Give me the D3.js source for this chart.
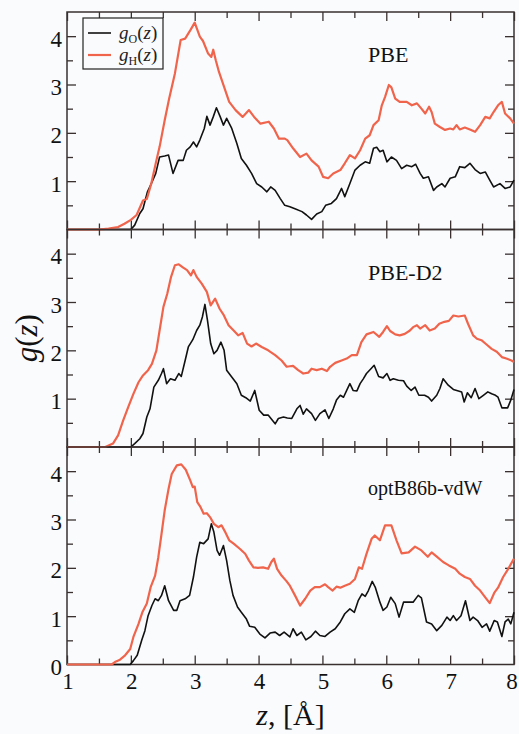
<!DOCTYPE html>
<html><head><meta charset="utf-8">
<script src="https://cdn.jsdelivr.net/npm/d3@7"></script>
<style>html,body{margin:0;padding:0;background:#fafbfd;} svg{display:block;}</style>
</head><body><svg id="c" width="519" height="734"></svg>
<script>
const panelNames = ["PBE", "PBE-D2", "optB86b-vdW"];
const xTicks = [1, 2, 3, 4, 5, 6, 7, 8];
const xMinor = [1.5, 2.5, 3.5, 4.5, 5.5, 6.5, 7.5];
const yTicks = [1, 2, 3, 4];
const yMinor = [0.5, 1.5, 2.5, 3.5];
const yLabelsTop = ["1", "2", "3", "4"];
const yLabelsBottom = ["0", "1", "2", "3", "4"];
const seriesNames = ["O", "H"];

const pbeO = [[1,0],[2.0,0],[2.06,0.09],[2.14,0.33],[2.19,0.43],[2.26,0.78],[2.32,0.95],[2.39,1.16],[2.45,1.5],[2.53,1.52],[2.59,1.54],[2.66,1.16],[2.74,1.43],[2.82,1.43],[2.87,1.64],[2.93,1.71],[2.98,1.81],[3.03,1.71],[3.08,1.85],[3.15,2.09],[3.19,2.34],[3.24,2.16],[3.29,2.33],[3.34,2.52],[3.4,2.33],[3.45,2.16],[3.5,2.3],[3.58,2.09],[3.66,1.78],[3.73,1.47],[3.81,1.33],[3.89,1.16],[3.97,0.95],[4.05,0.88],[4.13,0.78],[4.19,0.88],[4.26,0.81],[4.34,0.64],[4.41,0.5],[4.49,0.47],[4.57,0.43],[4.68,0.37],[4.75,0.3],[4.83,0.21],[4.91,0.32],[4.99,0.37],[5.05,0.5],[5.14,0.54],[5.22,0.64],[5.3,0.85],[5.35,0.68],[5.43,0.95],[5.51,1.23],[5.59,1.33],[5.67,1.4],[5.74,1.37],[5.8,1.68],[5.85,1.7],[5.9,1.61],[5.95,1.64],[6.01,1.4],[6.08,1.5],[6.16,1.43],[6.24,1.26],[6.32,1.33],[6.4,1.3],[6.46,1.35],[6.53,1.16],[6.58,1.06],[6.66,1.09],[6.74,0.81],[6.79,0.88],[6.87,0.95],[6.92,0.88],[7.0,1.06],[7.08,1.09],[7.15,1.3],[7.23,1.28],[7.31,1.37],[7.39,1.24],[7.47,1.16],[7.55,1.19],[7.62,1.02],[7.68,0.88],[7.78,0.95],[7.86,0.85],[7.94,0.88],[8.0,1.02]];
const pbeH = [[1,0],[1.5,0],[1.65,0.02],[1.8,0.05],[1.9,0.12],[2.0,0.2],[2.09,0.3],[2.19,0.6],[2.25,0.63],[2.32,0.95],[2.4,1.43],[2.45,1.71],[2.53,2.26],[2.6,2.71],[2.69,3.23],[2.78,3.92],[2.85,3.95],[2.93,4.12],[3.0,4.28],[3.08,3.99],[3.13,3.9],[3.21,3.64],[3.26,3.57],[3.29,3.72],[3.33,3.5],[3.38,3.26],[3.46,2.95],[3.54,2.64],[3.64,2.47],[3.75,2.33],[3.85,2.47],[3.93,2.33],[4.03,2.19],[4.16,2.23],[4.24,2.09],[4.32,1.88],[4.41,1.88],[4.45,1.85],[4.54,1.68],[4.65,1.5],[4.75,1.57],[4.83,1.43],[4.94,1.3],[5.01,1.09],[5.09,1.06],[5.17,1.16],[5.28,1.23],[5.35,1.37],[5.43,1.54],[5.51,1.47],[5.59,1.64],[5.67,1.88],[5.74,1.95],[5.8,2.16],[5.88,2.26],[5.93,2.57],[5.98,2.74],[6.04,2.99],[6.08,2.94],[6.14,2.71],[6.21,2.64],[6.32,2.64],[6.4,2.57],[6.48,2.61],[6.55,2.5],[6.61,2.4],[6.67,2.54],[6.71,2.43],[6.76,2.19],[6.84,2.12],[6.92,2.06],[7.0,2.09],[7.05,2.07],[7.1,2.16],[7.15,2.07],[7.23,2.11],[7.31,2.07],[7.39,2.02],[7.47,2.16],[7.55,2.33],[7.62,2.3],[7.68,2.43],[7.75,2.57],[7.81,2.64],[7.86,2.4],[7.94,2.3],[8.0,2.19]];

const d2O = [[1,0],[2.0,0],[2.06,0.07],[2.14,0.17],[2.19,0.28],[2.25,0.62],[2.3,0.79],[2.36,1.24],[2.43,1.38],[2.48,1.52],[2.51,1.62],[2.56,1.31],[2.62,1.41],[2.69,1.38],[2.75,1.52],[2.79,1.46],[2.85,1.79],[2.9,2.07],[2.97,2.22],[3.03,2.41],[3.08,2.52],[3.12,2.69],[3.16,2.95],[3.2,2.62],[3.25,2.14],[3.3,1.93],[3.35,2.0],[3.41,2.17],[3.46,2.0],[3.5,1.59],[3.58,1.45],[3.66,1.31],[3.73,1.07],[3.8,1.02],[3.87,0.95],[3.94,1.17],[4.01,0.76],[4.08,0.66],[4.15,0.66],[4.26,0.48],[4.31,0.59],[4.39,0.62],[4.45,0.6],[4.52,0.59],[4.6,0.79],[4.65,0.86],[4.7,0.68],[4.75,0.79],[4.83,0.69],[4.89,0.55],[4.96,0.69],[5.04,0.77],[5.1,0.59],[5.17,0.79],[5.22,0.97],[5.28,1.07],[5.33,1.03],[5.38,1.17],[5.43,1.31],[5.48,1.17],[5.54,1.16],[5.59,1.31],[5.64,1.41],[5.69,1.52],[5.76,1.62],[5.81,1.69],[5.88,1.46],[5.95,1.43],[6.01,1.52],[6.06,1.38],[6.11,1.41],[6.19,1.38],[6.27,1.37],[6.32,1.26],[6.39,1.17],[6.45,1.24],[6.51,1.07],[6.6,1.07],[6.66,1.03],[6.71,0.95],[6.79,1.07],[6.84,1.21],[6.89,1.41],[6.97,1.28],[7.05,1.19],[7.13,1.16],[7.18,1.14],[7.22,0.93],[7.27,1.12],[7.33,1.02],[7.39,1.21],[7.45,1.0],[7.52,1.07],[7.59,1.14],[7.65,1.1],[7.71,1.07],[7.75,1.03],[7.81,0.81],[7.9,0.81],[7.95,0.97],[8.0,1.19]];
const d2H = [[1,0],[1.6,0],[1.72,0.07],[1.8,0.24],[1.88,0.55],[1.96,0.83],[2.04,1.1],[2.12,1.34],[2.19,1.48],[2.27,1.59],[2.33,1.72],[2.4,2.0],[2.45,2.41],[2.51,2.9],[2.57,3.17],[2.63,3.52],[2.69,3.76],[2.75,3.78],[2.82,3.71],[2.88,3.66],[2.94,3.55],[2.98,3.66],[3.03,3.52],[3.11,3.38],[3.19,3.21],[3.25,2.93],[3.32,3.07],[3.39,2.86],[3.45,2.74],[3.53,2.52],[3.61,2.41],[3.68,2.31],[3.75,2.36],[3.82,2.14],[3.89,2.08],[3.96,2.14],[4.05,2.07],[4.15,2.0],[4.26,1.9],[4.36,1.79],[4.44,1.66],[4.49,1.67],[4.54,1.68],[4.62,1.59],[4.7,1.52],[4.78,1.54],[4.83,1.62],[4.91,1.59],[4.99,1.62],[5.07,1.57],[5.12,1.66],[5.2,1.74],[5.3,1.79],[5.38,1.83],[5.46,1.9],[5.54,1.9],[5.61,2.17],[5.69,2.33],[5.8,2.38],[5.89,2.28],[5.95,2.38],[6.01,2.5],[6.06,2.4],[6.14,2.33],[6.21,2.31],[6.29,2.34],[6.37,2.41],[6.42,2.48],[6.48,2.52],[6.53,2.45],[6.61,2.52],[6.68,2.41],[6.76,2.45],[6.83,2.55],[6.91,2.59],[6.98,2.61],[7.05,2.72],[7.13,2.7],[7.23,2.72],[7.28,2.55],[7.36,2.31],[7.42,2.24],[7.49,2.21],[7.57,2.12],[7.65,2.03],[7.73,1.97],[7.81,1.86],[7.88,1.83],[7.96,1.79],[8.0,1.76]];

const optO = [[1,0],[1.99,0],[2.04,0.08],[2.1,0.19],[2.17,0.5],[2.22,0.7],[2.27,1.01],[2.33,1.22],[2.38,1.36],[2.43,1.32],[2.48,1.43],[2.53,1.63],[2.59,1.32],[2.67,1.12],[2.72,1.12],[2.77,1.32],[2.85,1.36],[2.92,1.43],[2.98,1.81],[3.03,2.22],[3.08,2.53],[3.14,2.5],[3.21,2.6],[3.26,2.91],[3.3,2.74],[3.35,2.36],[3.39,2.26],[3.45,2.46],[3.5,2.15],[3.55,1.74],[3.6,1.43],[3.67,1.19],[3.73,1.08],[3.81,0.94],[3.86,0.79],[3.94,0.77],[4.02,0.63],[4.1,0.55],[4.18,0.65],[4.26,0.67],[4.33,0.6],[4.4,0.67],[4.49,0.57],[4.54,0.74],[4.6,0.6],[4.67,0.67],[4.74,0.51],[4.82,0.58],[4.89,0.69],[4.96,0.6],[5.04,0.58],[5.12,0.67],[5.2,0.74],[5.28,0.88],[5.35,1.05],[5.43,1.15],[5.5,1.08],[5.56,1.32],[5.62,1.46],[5.67,1.41],[5.72,1.53],[5.78,1.72],[5.83,1.59],[5.9,1.29],[5.95,1.12],[6.01,1.19],[6.07,1.39],[6.14,1.26],[6.2,0.98],[6.27,1.29],[6.35,1.29],[6.42,1.29],[6.5,1.43],[6.55,1.38],[6.63,0.88],[6.71,0.84],[6.79,0.7],[6.87,0.81],[6.95,0.98],[7.0,0.91],[7.05,1.01],[7.1,0.91],[7.17,1.01],[7.24,1.32],[7.31,0.91],[7.36,0.98],[7.43,0.91],[7.5,0.77],[7.57,0.84],[7.62,0.69],[7.69,0.91],[7.74,0.88],[7.81,0.58],[7.86,0.88],[7.91,0.94],[7.95,0.84],[8.0,1.08]];
const optH = [[1,0],[1.7,0],[1.75,0.05],[1.83,0.1],[1.91,0.19],[1.99,0.32],[2.04,0.57],[2.12,0.84],[2.18,1.08],[2.25,1.26],[2.31,1.6],[2.38,1.84],[2.43,2.22],[2.48,2.7],[2.53,3.19],[2.59,3.63],[2.64,3.94],[2.72,4.12],[2.79,4.14],[2.86,4.03],[2.93,3.81],[2.97,3.67],[3.0,3.68],[3.04,3.36],[3.09,3.26],[3.14,3.12],[3.19,3.13],[3.24,3.05],[3.3,2.91],[3.37,2.84],[3.42,2.88],[3.47,2.76],[3.54,2.57],[3.61,2.5],[3.71,2.39],[3.79,2.29],[3.85,2.15],[3.92,2.01],[3.99,2.0],[4.07,2.01],[4.15,1.98],[4.2,2.12],[4.24,2.19],[4.29,1.98],[4.36,1.84],[4.44,1.72],[4.49,1.63],[4.57,1.43],[4.65,1.22],[4.73,1.36],[4.81,1.53],[4.88,1.6],[4.96,1.6],[5.04,1.66],[5.09,1.6],[5.16,1.53],[5.22,1.61],[5.28,1.59],[5.35,1.63],[5.43,1.67],[5.51,1.77],[5.57,2.01],[5.62,1.98],[5.69,2.29],[5.77,2.6],[5.82,2.67],[5.9,2.57],[5.98,2.88],[6.08,2.88],[6.16,2.57],[6.24,2.3],[6.35,2.32],[6.45,2.44],[6.55,2.36],[6.65,2.23],[6.71,2.32],[6.8,2.22],[6.89,2.12],[6.98,2.05],[7.08,1.98],[7.15,1.88],[7.23,1.81],[7.31,1.77],[7.39,1.63],[7.47,1.53],[7.55,1.39],[7.62,1.27],[7.69,1.48],[7.75,1.59],[7.83,1.81],[7.91,1.98],[8.0,2.19]];

const panelsO = [pbeO, d2O, optO];
const panelsH = [pbeH, d2H, optH];

const colO = "#111111", colH = "#f0644c", frameCol = "#3a3030";
const serif = "'Liberation Serif','DejaVu Serif',serif";
const svg = d3.select("#c");
const left = 67, right = 514, top0 = 12, ph = 217.5;
const x = d3.scaleLinear().domain([1, 8]).range([left, right]);

panelNames.forEach((name, i) => {
  const t = top0 + i * ph, b = t + ph;
  const y = d3.scaleLinear().domain([0, 4.5]).range([b, t]);
  const g = svg.append("g");
  const mk = (axis, vals, size) => axis.tickValues(vals).tickSize(-size).tickSizeOuter(0).tickFormat("");
  const addAx = (axis, tr) => {
    const a = g.append("g").attr("transform", tr).call(axis);
    a.select(".domain").remove();
    a.selectAll("line").attr("stroke", frameCol).attr("stroke-width", 1.3);
  };
  addAx(mk(d3.axisBottom(x), xTicks, 9), `translate(0,${b})`);
  addAx(mk(d3.axisBottom(x), xMinor, 6), `translate(0,${b})`);
  addAx(mk(d3.axisTop(x), xTicks, 9), `translate(0,${t})`);
  addAx(mk(d3.axisTop(x), xMinor, 6), `translate(0,${t})`);
  addAx(mk(d3.axisLeft(y), yTicks, 9), `translate(${left},0)`);
  addAx(mk(d3.axisLeft(y), yMinor, 6), `translate(${left},0)`);
  addAx(mk(d3.axisRight(y), yTicks, 9), `translate(${right},0)`);
  addAx(mk(d3.axisRight(y), yMinor, 6), `translate(${right},0)`);
  g.append("rect").attr("x", left).attr("y", t).attr("width", right - left).attr("height", ph)
    .attr("fill", "none").attr("stroke", frameCol).attr("stroke-width", 1.5);

  const labs = i === 2 ? yLabelsBottom : yLabelsTop;
  g.selectAll("text.yl").data(labs).enter().append("text")
    .attr("x", left - 5).attr("y", d => y(+d) + 10.5)
    .attr("text-anchor", "end").attr("font-family", serif).attr("font-size", 23)
    .attr("fill", "#111").text(d => d);

  const line = d3.line().x(d => x(d[0])).y(d => y(d[1]));
  g.append("path").datum(panelsO[i]).attr("d", line).attr("fill", "none")
    .attr("stroke", colO).attr("stroke-width", 1.6).attr("stroke-linejoin", "round");
  g.append("path").datum(panelsH[i]).attr("d", line).attr("fill", "none")
    .attr("stroke", colH).attr("stroke-width", 2.2).attr("stroke-linejoin", "round");

  g.append("text").attr("x", 368).attr("y", t + (i === 2 ? 48 : 50))
    .attr("font-family", serif).attr("font-size", i === 2 ? 20 : 22).attr("fill", "#111").text(name);

  if (i === 2) {
    g.selectAll("text.xl").data(xTicks).enter().append("text")
      .attr("x", d => Math.min(x(d) + 1, 512)).attr("y", b + 24).attr("text-anchor", "middle")
      .attr("font-family", serif).attr("font-size", 23).attr("fill", "#111").text(d => d);
  }
});

// legend
const leg = svg.append("g");
leg.append("rect").attr("x", 83).attr("y", 18).attr("width", 80).attr("height", 51)
  .attr("fill", "#fafbfd").attr("stroke", "#222").attr("stroke-width", 1.2);
seriesNames.forEach((s, k) => {
  const yy = 33 + k * 22;
  leg.append("line").attr("x1", 88).attr("x2", 111).attr("y1", yy).attr("y2", yy)
    .attr("stroke", k === 0 ? colO : colH).attr("stroke-width", k === 0 ? 1.6 : 2.2);
  const tx = leg.append("text").attr("x", 119).attr("y", yy + 6).attr("font-family", serif)
    .attr("font-size", 19).attr("fill", "#222");
  tx.append("tspan").attr("font-style", "italic").text("g");
  tx.append("tspan").attr("font-size", 12).attr("dy", 4).text(s);
  tx.append("tspan").attr("dy", -4).text("(");
  tx.append("tspan").attr("font-style", "italic").text("z");
  tx.append("tspan").text(")");
});

// axis titles
const xt = svg.append("text").attr("x", (left + right) / 2).attr("y", 725).attr("text-anchor", "middle")
  .attr("font-family", serif).attr("font-size", 30).attr("fill", "#111");
xt.append("tspan").attr("font-style", "italic").text("z");
xt.append("tspan").text(", [Å]");

const yt = svg.append("text").attr("transform", `translate(37,${top0 + 1.5 * ph}) rotate(-90)`)
  .attr("text-anchor", "middle").attr("font-family", serif).attr("font-size", 31).attr("fill", "#111");
yt.append("tspan").attr("font-style", "italic").text("g");
yt.append("tspan").text("(");
yt.append("tspan").attr("font-style", "italic").text("z");
yt.append("tspan").text(")");
</script></body></html>
